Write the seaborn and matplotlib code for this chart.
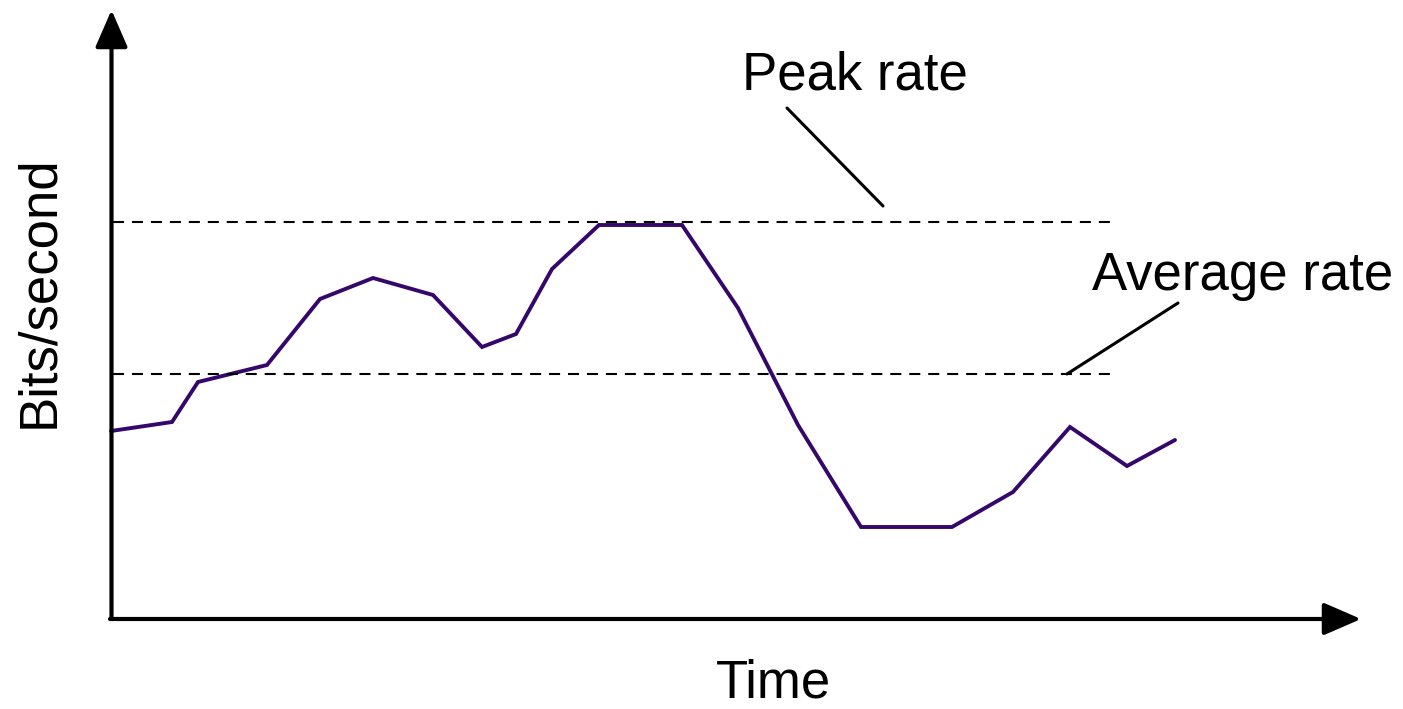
import matplotlib
matplotlib.use("Agg")
import matplotlib.pyplot as plt
import numpy as np
import pandas as pd
import seaborn as sns

# traffic trace (arbitrary units)
time_pts = [0, 6.1, 8.7, 15.6, 20.9, 26.2, 32.2, 37.1, 40.5, 44.1,
            48.8, 57.1, 62.7, 68.7, 75.0, 84.1, 90.2, 95.9, 101.6, 106.4]
rate_pts = [18.9, 19.8, 23.8, 25.5, 32.1, 34.2, 32.5, 27.3, 28.6, 35.1,
            39.5, 39.5, 31.2, 19.5, 9.3, 9.3, 12.8, 19.3, 15.4, 18.0]
peak_rate = 39.8
avg_rate = 24.6
ref_span = [0.2, 100.2]

labels = {"x": "Time", "y": "Bits/second", "peak": "Peak rate", "avg": "Average rate"}

if __name__ == '__main__':
    sns.set_style("white")
    plt.rcParams['font.family'] = ['Liberation Sans', 'DejaVu Sans']
    plt.rcParams['text.color'] = 'black'

    trace = pd.DataFrame({"t": time_pts, "r": rate_pts})

    fig = plt.figure(figsize=(14.03, 7.09), dpi=100)
    ax = fig.add_axes([0, 0, 1, 1])

    sns.lineplot(data=trace, x="t", y="r", ax=ax, color="#35076b",
                 linewidth=2.8, solid_joinstyle="miter")

    # reference levels
    for lvl in [peak_rate, avg_rate]:
        ax.plot(ref_span, [lvl, lvl], color="black", linewidth=1.5,
                dashes=(5.3, 3.8))

    # axes drawn as arrows
    arrow_kw = dict(arrowstyle="-|>,head_length=1.15,head_width=0.5",
                    mutation_scale=20, lw=3, color="black",
                    shrinkA=0, shrinkB=0)
    ax.annotate("", xy=(0.05, 61.0), xytext=(0.05, 0.1), arrowprops=arrow_kw)
    ax.annotate("", xy=(125.0, 0.1), xytext=(-0.1, 0.1), arrowprops=arrow_kw)

    # leader lines and labels
    ax.plot([67.6, 77.2], [51.2, 41.4], color="black", linewidth=2.2)
    ax.plot([106.7, 95.6], [31.7, 24.6], color="black", linewidth=2.2)

    ax.text(74.4, 53.0, labels["peak"], fontsize=38, ha="center", va="baseline")
    ax.text(113.2, 33.0, labels["avg"], fontsize=38, ha="center", va="baseline")
    ax.text(66.2, -7.8, labels["x"], fontsize=38, ha="center", va="baseline")
    ax.text(-5.8, 32.8, labels["y"], fontsize=38, ha="center", va="baseline",
            rotation=90, rotation_mode="anchor")

    ax.set_xlim(-11.1, 129.2)
    ax.set_ylim(-8.9, 62.0)
    ax.set_axis_off()

    plt.savefig("out.png", dpi=100)
